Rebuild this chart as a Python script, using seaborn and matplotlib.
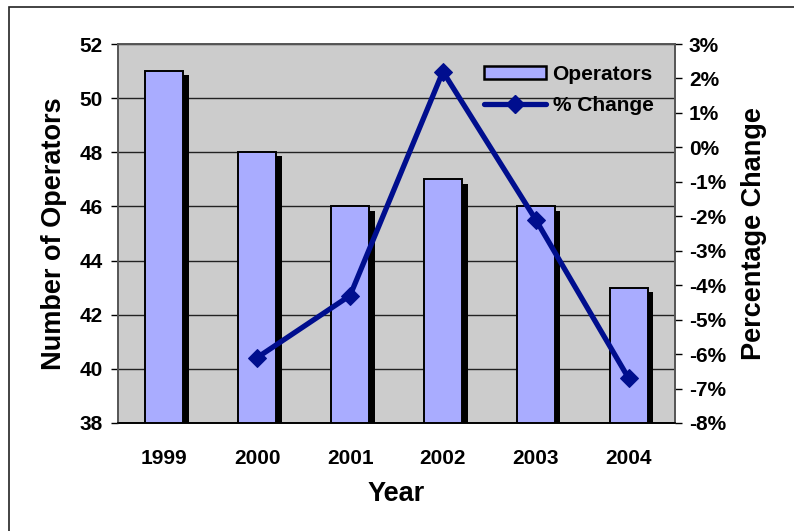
import numpy as np
import matplotlib
matplotlib.use("Agg")
import matplotlib.pyplot as plt
import matplotlib.patheffects as pe
from matplotlib.patches import Rectangle, Patch
from matplotlib.lines import Line2D
from matplotlib.ticker import FixedLocator, PercentFormatter
import seaborn as sns

# data
years = ["1999", "2000", "2001", "2002", "2003", "2004"]
operators = [51, 48, 46, 47, 46, 43]
pct_years = ["2000", "2001", "2002", "2003", "2004"]
pct_change = [-6.1, -4.3, 2.2, -2.1, -6.7]

bar_color = "#A9ACFF"
line_color = "#000E8E"

sns.set_style("white")
plt.rcParams["font.family"] = ["Liberation Sans", "DejaVu Sans"]
plt.rcParams["font.weight"] = "bold"
plt.rcParams["axes.unicode_minus"] = False
for k in ("text.color", "axes.labelcolor", "xtick.color", "ytick.color"):
    plt.rcParams[k] = "black"

fig = plt.figure(figsize=(7.94, 5.31), dpi=100)
ax = fig.add_axes([118 / 794, 1 - 423 / 531, 557 / 794, 379 / 531])
ax.set_facecolor("#CCCCCC")

# bars with a black drop shadow
sns.barplot(x=years, y=operators, ax=ax, color=bar_color, saturation=1,
            width=0.41, edgecolor="black", linewidth=1.4)
for p in ax.patches:
    p.set_path_effects([pe.SimplePatchShadow(offset=(4, -3), shadow_rgbFace="black", alpha=1),
                        pe.Normal()])

ax.set_ylim(38, 52)
ax.set_xlim(-0.5, 5.5)
ax.set_yticks(np.arange(38, 53, 2))
ax.set_axisbelow(True)
ax.yaxis.grid(True, color="#222222", linewidth=1)
ax.xaxis.grid(False)
ax.tick_params(axis="y", which="major", direction="out", length=5, width=1,
               labelsize=15, pad=6, left=True)
ax.tick_params(axis="x", which="major", length=0, labelsize=15, pad=19)
ax.xaxis.set_minor_locator(FixedLocator(np.arange(0.5, 5.0, 1)))
ax.tick_params(axis="x", which="minor", direction="inout", length=8, width=1)
ax.set_xlabel("Year", fontsize=19.5, fontweight="bold", labelpad=9)
ax.set_ylabel("Number of Operators", fontsize=19.5, fontweight="bold", labelpad=9)
for lab in ax.get_xticklabels() + ax.get_yticklabels():
    lab.set_fontweight("bold")

# percentage change line on the right axis
ax2 = ax.twinx()
pos = [years.index(y) for y in pct_years]
sns.lineplot(x=pos, y=pct_change, ax=ax2, color=line_color, linewidth=3.8,
             marker="D", markersize=9, markeredgecolor=line_color, legend=False)
ax2.set_ylim(-8, 3)
ax2.set_yticks(np.arange(-8, 4, 1))
ax2.yaxis.set_major_formatter(PercentFormatter(decimals=0))
ax2.tick_params(axis="y", direction="out", length=5, width=1, labelsize=15, pad=5, right=True)
for lab in ax2.get_yticklabels():
    lab.set_fontweight("bold")
ax2.set_ylabel("Percentage Change", fontsize=19.5, fontweight="bold", labelpad=11)

for a in (ax, ax2):
    for s in a.spines.values():
        s.set_color("#555555")
        s.set_linewidth(1.2)
    a.spines["bottom"].set_color("black")

# legend
handles = [Patch(facecolor=bar_color, edgecolor="black", linewidth=1.8, label="Operators"),
           Line2D([], [], color=line_color, linewidth=3.8, marker="D", markersize=9,
                  label="% Change")]
ax2.legend(handles=handles, loc="upper right", bbox_to_anchor=(0.995, 0.995),
           frameon=False, handlelength=3.0, handleheight=0.6,
           handletextpad=0.3, labelspacing=0.6, prop={"weight": "bold", "size": 15})

# outer chart frame
fig.patches.append(Rectangle((9 / 794, -0.1), 1.2, 1.1 - 7 / 531, transform=fig.transFigure,
                             fill=False, edgecolor="#222222", linewidth=1.2))

fig.savefig("out.png", dpi=100)
